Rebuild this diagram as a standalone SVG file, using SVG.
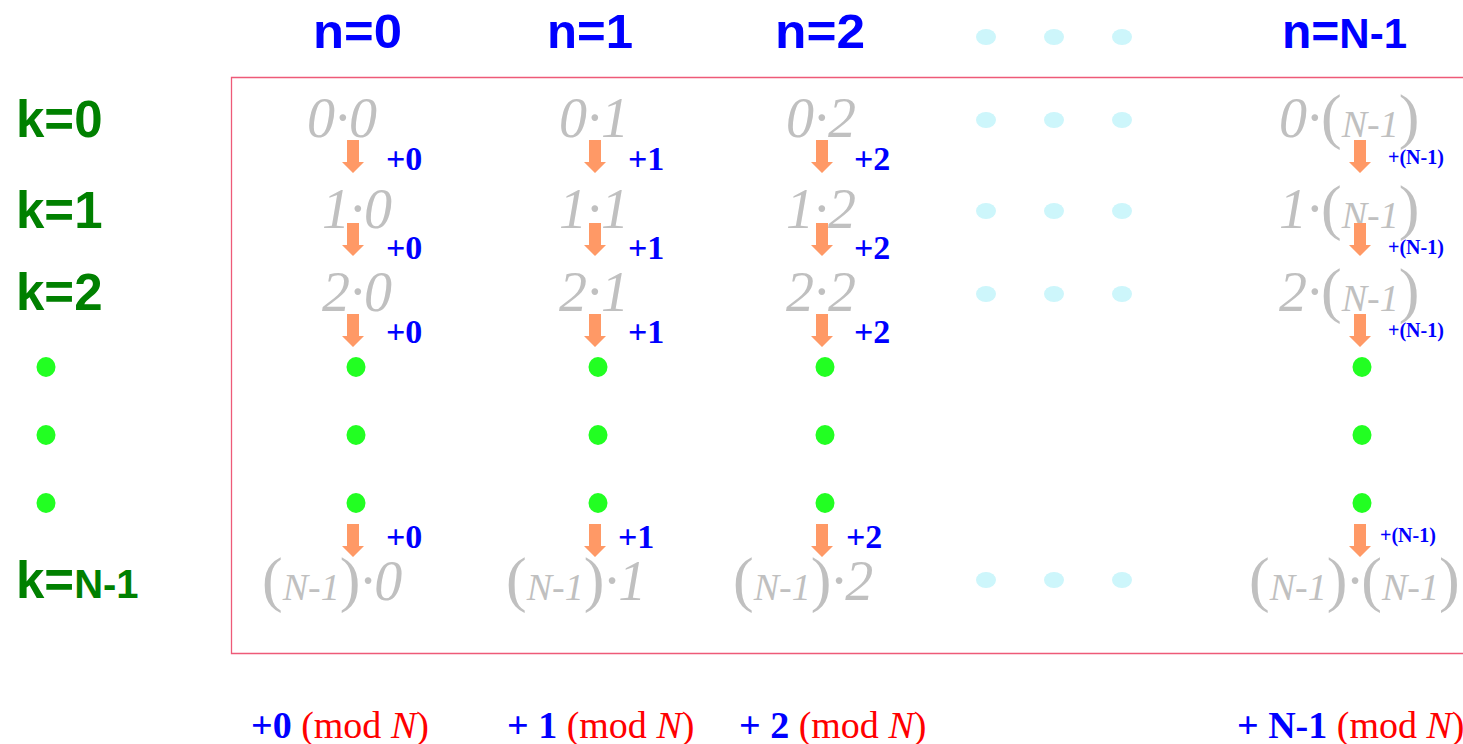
<svg xmlns="http://www.w3.org/2000/svg" xmlns:xlink="http://www.w3.org/1999/xlink" width="1463" height="744" viewBox="0 0 1463 744">
<style>
.hd{font-family:"Liberation Sans",Arial,sans-serif;font-weight:bold;fill:#0000ff;font-size:48px}
.kl{font-family:"Liberation Sans",Arial,sans-serif;font-weight:bold;fill:#008000;font-size:51px}
.g{font-family:"Liberation Serif","Times New Roman",serif;font-style:italic;fill:#c0c0c0;font-size:56px}
.p{font-style:normal;font-size:62px}
.s{font-size:38px}
.lb{font-family:"Liberation Serif","Times New Roman",serif;font-weight:bold;fill:#0000ff;font-size:34px}
.ls{font-family:"Liberation Serif","Times New Roman",serif;font-weight:bold;fill:#0000ff;font-size:20px}
.bt{font-family:"Liberation Serif","Times New Roman",serif;font-size:38px;fill:#ff0000}
.bb{font-weight:bold;fill:#0000ff}
.it{font-style:italic}
.cy{fill:#cdf6fb}
.gr{fill:#22ff22}
</style>
<defs>
<path id="arr" d="M-6,0 H6 V22 H11 L0,33 L-11,22 H-6 Z" fill="#ff9966"/>
</defs>
<path id="frame" d="M1463,77.5 H231.5 V653.5 H1463" fill="none" stroke="#ee5a78" stroke-width="1.3"/>
<g id="headers">
<text class="hd" x="313" y="48" textLength="89" lengthAdjust="spacingAndGlyphs">n=0</text>
<text class="hd" x="547" y="48" textLength="86" lengthAdjust="spacingAndGlyphs">n=1</text>
<text class="hd" x="775" y="48" textLength="90" lengthAdjust="spacingAndGlyphs">n=2</text>
<text class="hd" x="1282" y="48">n=<tspan font-size="42">N-1</tspan></text>
</g>
<g id="klabels">
<text class="kl" x="16" y="137">k=0</text>
<text class="kl" x="16" y="228">k=1</text>
<text class="kl" x="16" y="310">k=2</text>
<text class="kl" x="16" y="598">k=<tspan font-size="40">N-1</tspan></text>
<ellipse class="gr" cx="46" cy="367" rx="9.5" ry="10"/>
<ellipse class="gr" cx="46" cy="435" rx="9.5" ry="10"/>
<ellipse class="gr" cx="46" cy="503" rx="9.5" ry="10"/>
</g>
<g id="cyan-dots">
<ellipse class="cy" cx="986" cy="37" rx="10" ry="8"/><ellipse class="cy" cx="1054" cy="37" rx="10" ry="8"/><ellipse class="cy" cx="1122" cy="37" rx="10" ry="8"/>
<ellipse class="cy" cx="986" cy="120" rx="10" ry="8"/><ellipse class="cy" cx="1054" cy="120" rx="10" ry="8"/><ellipse class="cy" cx="1122" cy="120" rx="10" ry="8"/>
<ellipse class="cy" cx="986" cy="211" rx="10" ry="8"/><ellipse class="cy" cx="1054" cy="211" rx="10" ry="8"/><ellipse class="cy" cx="1122" cy="211" rx="10" ry="8"/>
<ellipse class="cy" cx="986" cy="294" rx="10" ry="8"/><ellipse class="cy" cx="1054" cy="294" rx="10" ry="8"/><ellipse class="cy" cx="1122" cy="294" rx="10" ry="8"/>
<ellipse class="cy" cx="986" cy="580" rx="10" ry="8"/><ellipse class="cy" cx="1054" cy="580" rx="10" ry="8"/><ellipse class="cy" cx="1122" cy="580" rx="10" ry="8"/>
</g>
<g id="col0">
<text class="g" x="307" y="137">0·0</text>
<text class="g" x="322" y="228">1·0</text>
<text class="g" x="322" y="311">2·0</text>
<text class="g" x="262" y="600"><tspan class="p">(</tspan><tspan class="s">N-1</tspan><tspan class="p">)</tspan>·0</text>
<ellipse class="gr" cx="356" cy="367" rx="9.5" ry="10"/>
<ellipse class="gr" cx="356" cy="435" rx="9.5" ry="10"/>
<ellipse class="gr" cx="356" cy="503" rx="9.5" ry="10"/>
</g>
<g id="col1">
<text class="g" x="559" y="137">0·1</text>
<text class="g" x="559" y="228">1·1</text>
<text class="g" x="559" y="311">2·1</text>
<text class="g" x="506" y="600"><tspan class="p">(</tspan><tspan class="s">N-1</tspan><tspan class="p">)</tspan>·1</text>
<ellipse class="gr" cx="598" cy="367" rx="9.5" ry="10"/>
<ellipse class="gr" cx="598" cy="435" rx="9.5" ry="10"/>
<ellipse class="gr" cx="598" cy="503" rx="9.5" ry="10"/>
</g>
<g id="col2">
<text class="g" x="786" y="137">0·2</text>
<text class="g" x="786" y="228">1·2</text>
<text class="g" x="786" y="311">2·2</text>
<text class="g" x="733" y="600"><tspan class="p">(</tspan><tspan class="s">N-1</tspan><tspan class="p">)</tspan>·2</text>
<ellipse class="gr" cx="825" cy="367" rx="9.5" ry="10"/>
<ellipse class="gr" cx="825" cy="435" rx="9.5" ry="10"/>
<ellipse class="gr" cx="825" cy="503" rx="9.5" ry="10"/>
</g>
<g id="colN">
<text class="g" x="1279" y="137">0·<tspan class="p">(</tspan><tspan class="s">N-1</tspan><tspan class="p">)</tspan></text>
<text class="g" x="1279" y="228">1·<tspan class="p">(</tspan><tspan class="s">N-1</tspan><tspan class="p">)</tspan></text>
<text class="g" x="1279" y="311">2·<tspan class="p">(</tspan><tspan class="s">N-1</tspan><tspan class="p">)</tspan></text>
<text class="g" x="1249" y="600"><tspan class="p">(</tspan><tspan class="s">N-1</tspan><tspan class="p">)</tspan>·<tspan class="p">(</tspan><tspan class="s">N-1</tspan><tspan class="p">)</tspan></text>
<ellipse class="gr" cx="1362" cy="367" rx="9.5" ry="10"/>
<ellipse class="gr" cx="1362" cy="435" rx="9.5" ry="10"/>
<ellipse class="gr" cx="1362" cy="503" rx="9.5" ry="10"/>
</g>
<g id="connectors">
<use xlink:href="#arr" x="353" y="140"/><use xlink:href="#arr" x="353" y="223"/><use xlink:href="#arr" x="353" y="314"/><use xlink:href="#arr" x="353" y="524"/>
<use xlink:href="#arr" x="595" y="140"/><use xlink:href="#arr" x="595" y="223"/><use xlink:href="#arr" x="595" y="314"/><use xlink:href="#arr" x="595" y="524"/>
<use xlink:href="#arr" x="822" y="140"/><use xlink:href="#arr" x="822" y="223"/><use xlink:href="#arr" x="822" y="314"/><use xlink:href="#arr" x="822" y="524"/>
<use xlink:href="#arr" x="1360" y="140"/><use xlink:href="#arr" x="1360" y="223"/><use xlink:href="#arr" x="1360" y="314"/><use xlink:href="#arr" x="1360" y="524"/>
<text class="lb" x="386" y="170">+0</text><text class="lb" x="386" y="259">+0</text><text class="lb" x="386" y="343">+0</text><text class="lb" x="386" y="548">+0</text>
<text class="lb" x="628" y="170">+1</text><text class="lb" x="628" y="259">+1</text><text class="lb" x="628" y="343">+1</text><text class="lb" x="618" y="548">+1</text>
<text class="lb" x="854" y="170">+2</text><text class="lb" x="854" y="259">+2</text><text class="lb" x="854" y="343">+2</text><text class="lb" x="846" y="548">+2</text>
<text class="ls" x="1388" y="164">+(N-1)</text><text class="ls" x="1388" y="254">+(N-1)</text><text class="ls" x="1388" y="337">+(N-1)</text><text class="ls" x="1380" y="542">+(N-1)</text>
</g>
<g id="bottom">
<text class="bt" x="251" y="738"><tspan class="bb">+0</tspan> (mod <tspan class="it">N</tspan>)</text>
<text class="bt" x="507" y="738"><tspan class="bb">+ 1</tspan> (mod <tspan class="it">N</tspan>)</text>
<text class="bt" x="739" y="738"><tspan class="bb">+ 2</tspan> (mod <tspan class="it">N</tspan>)</text>
<text class="bt" x="1237" y="738"><tspan class="bb">+ N-1</tspan> (mod <tspan class="it">N</tspan>)</text>
</g>
</svg>
